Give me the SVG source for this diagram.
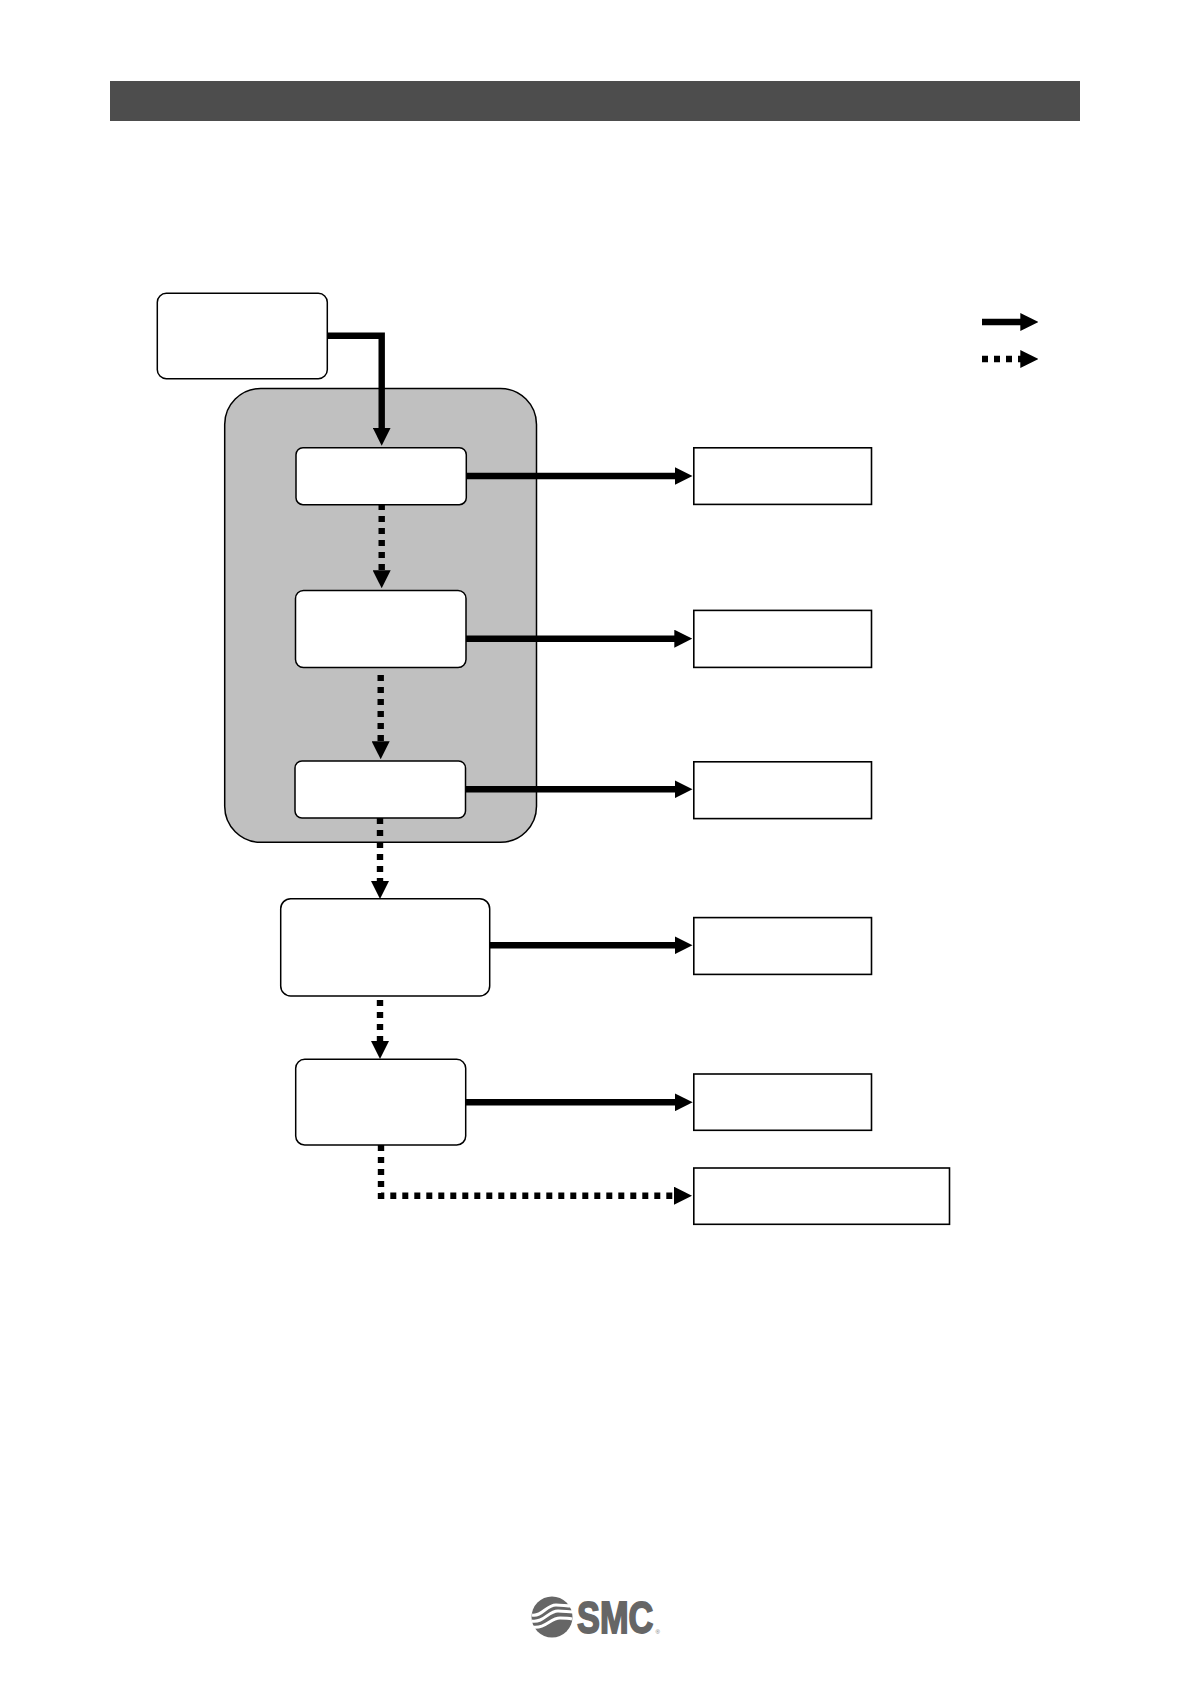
<svg xmlns="http://www.w3.org/2000/svg" width="1191" height="1684" viewBox="0 0 1191 1684">
<defs>
<marker id="ah" markerUnits="userSpaceOnUse" markerWidth="18" markerHeight="18" refX="8" refY="9" orient="auto"><path d="M0,0 L18,9 L0,18 Z" fill="#000"/></marker>
</defs>
<style>
.rn{fill:#fff;stroke:#000;stroke-width:1.5}
.sq{fill:#fff;stroke:#000;stroke-width:1.6}
.s{fill:none;stroke:#000;stroke-width:6.4;marker-end:url(#ah)}
.d{fill:none;stroke:#000;stroke-width:6.4;stroke-dasharray:6 6;marker-end:url(#ah)}
.wave{fill:none;stroke:#fff;stroke-width:3}
</style>
<rect id="header" x="110" y="81" width="970" height="40" fill="#4d4d4d"/>
<g id="group-bg"><rect x="224.7" y="388.5" width="311.8" height="453.8" rx="36" ry="36" fill="#c0c0c0" stroke="#000" stroke-width="1.5"/></g>
<g id="connectors">
<path class="s" d="M327.5,335.7 H381.7 V435.7"/>
<path class="s" d="M466.5,476 H682.5"/>
<path class="s" d="M466,638.7 H682.3"/>
<path class="s" d="M465.5,789.3 H682.5"/>
<path class="s" d="M490,945.3 H682.5"/>
<path class="s" d="M466,1102.3 H682.7"/>
<path class="d" d="M381.7,504 V578.3"/>
<path class="d" d="M380.7,675 V749.3"/>
<path class="d" d="M380,818 V889"/>
<path class="d" d="M380,1000 V1049"/>
<path class="d" d="M381,1145 V1195.7 H682"/>
<path class="s" d="M982,322 H1028.3"/>
<path class="d" d="M982,359 H1028.3"/>
</g>
<g id="node-start"><rect class="rn" x="157.3" y="293.3" width="170" height="85.4" rx="9"/></g>
<g id="node-1"><rect class="rn" x="296" y="447.7" width="170.3" height="57" rx="7"/></g>
<g id="node-2"><rect class="rn" x="295.5" y="590.5" width="170.5" height="77" rx="8"/></g>
<g id="node-3"><rect class="rn" x="295" y="761" width="170.5" height="57" rx="7"/></g>
<g id="node-4"><rect class="rn" x="280.7" y="898.7" width="209" height="97.3" rx="10"/></g>
<g id="node-5"><rect class="rn" x="295.7" y="1059.3" width="170" height="85.7" rx="9"/></g>
<g id="out-1"><rect class="sq" x="693.8" y="447.8" width="177.7" height="56.6"/></g>
<g id="out-2"><rect class="sq" x="693.8" y="610.4" width="177.7" height="57"/></g>
<g id="out-3"><rect class="sq" x="693.8" y="761.8" width="177.7" height="56.8"/></g>
<g id="out-4"><rect class="sq" x="693.8" y="917.6" width="177.7" height="56.8"/></g>
<g id="out-5"><rect class="sq" x="693.8" y="1074" width="177.7" height="56.3"/></g>
<g id="out-6"><rect class="sq" x="693.8" y="1168" width="255.7" height="56.3"/></g>
<g id="logo">
<circle cx="552" cy="1617" r="20.5" fill="#666"/>
<path class="wave" d="M532,1615 C542,1617 546,1605 556,1605 C562,1605 566,1606 572,1606"/>
<path class="wave" d="M531.5,1621 C544,1623 548,1611 558,1611 C564,1611 568,1612 572.5,1612"/>
<path class="wave" d="M532,1627 C546,1629 550,1618 560,1618 C566,1618 568,1618 572,1619"/>
<text transform="translate(577,1633) scale(0.78,1)" font-family="Liberation Sans, Arial, sans-serif" font-weight="700" font-size="44" fill="#666" stroke="#666" stroke-width="1.8">SMC</text>
<text x="655.5" y="1634" font-family="Liberation Sans, Arial, sans-serif" font-size="6" fill="#777">®</text>
</g>
</svg>
